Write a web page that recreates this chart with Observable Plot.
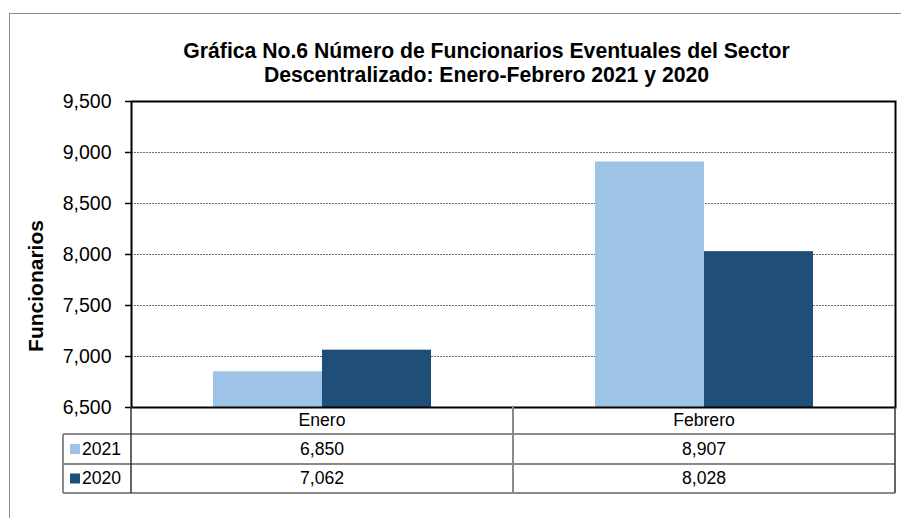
<!DOCTYPE html>
<html>
<head>
<meta charset="utf-8">
<script src="https://cdn.jsdelivr.net/npm/d3@7"></script>
<script src="https://cdn.jsdelivr.net/npm/@observablehq/plot@0.6"></script>
<style>
  html, body { margin: 0; padding: 0; background: #fff; overflow: hidden; }
  body { width: 901px; height: 518px; position: relative; font-family: "Liberation Sans", Arial, sans-serif; color: #000; }
  #outer { position: absolute; left: 9px; top: 13px; width: 1000px; height: 600px; border: 1px solid #8c8c8c; box-sizing: border-box; }
  .title { position: absolute; left: 486.5px; transform: translateX(-50%); white-space: nowrap; font-weight: bold; font-size: 21.2px; line-height: 1; }
  #ylabel { position: absolute; left: 35px; top: 286px; transform: translate(-50%, -50%) rotate(-90deg); white-space: nowrap; font-weight: bold; font-size: 21px; line-height: 1; }
  #chart { position: absolute; left: 0; top: 0; }
  #table { position: absolute; left: 0; top: 0; }
</style>
</head>
<body>
<div id="outer"></div>
<div class="title" id="t1" style="top:40px"></div>
<div class="title" id="t2" style="top:64px"></div>
<div id="ylabel"></div>
<div id="chart"></div>
<svg id="table" width="901" height="518"></svg>
<script>
// ---- data ----
const titleLines = ["Gráfica No.6 Número de Funcionarios Eventuales del Sector", "Descentralizado: Enero-Febrero 2021 y 2020"];
const yTitle = "Funcionarios";
const months = ["Enero", "Febrero"];
const years = ["2021", "2020"];
const values2021 = [6850, 8907];
const values2020 = [7062, 8028];
const yTicks = [6500, 7000, 7500, 8000, 8500, 9000, 9500];
const gridTicks = [7000, 7500, 8000, 8500, 9000];
const colors = ["#9DC3E6", "#1F4E79"];

const series = [values2021, values2020];
const data = [];
months.forEach((m, i) => years.forEach((y, j) => data.push({month: m, year: y, value: series[j][i]})));

document.getElementById("t1").textContent = titleLines[0];
document.getElementById("t2").textContent = titleLines[1];
document.getElementById("ylabel").textContent = yTitle;

const fmt = d3.format(",");
const yDomain = [yTicks[0], yTicks[yTicks.length - 1]];

const chart = Plot.plot({
  width: 901,
  height: 420,
  marginLeft: 130,
  marginRight: 6,
  marginTop: 101,
  marginBottom: 13,
  style: {fontFamily: "'Liberation Sans', Arial, sans-serif", fontSize: "19.5px", color: "#000", background: "transparent", overflow: "visible"},
  fx: {domain: months, padding: 0, axis: null, label: null},
  x: {domain: years, paddingInner: 0, paddingOuter: 0.747, axis: null, label: null},
  y: {domain: yDomain, axis: null, label: null},
  color: {domain: years, range: colors},
  marks: [
    Plot.gridY(gridTicks, {stroke: "#6e6e6e", strokeOpacity: 1, strokeDasharray: "2,1", strokeWidth: 1}),
    Plot.barY(data, {fx: "month", x: "year", y1: yDomain[0], y2: "value", fill: "year"}),
    Plot.axisY(yTicks, {anchor: "left", tickSize: 6, tickPadding: 14, tickFormat: fmt, label: null, stroke: "#000", strokeWidth: 1.5}),
    Plot.frame({facet: "super", stroke: "#000", strokeWidth: 2})
  ]
});
document.getElementById("chart").appendChild(chart);

// ---- data table below the chart, aligned with the fx scale ----
const fx = chart.scale("fx");
const bw = fx.bandwidth;
const colLeft = months.map(m => fx.apply(m));
const plotLeft = colLeft[0];
const plotRight = colLeft[colLeft.length - 1] + bw;
const tableLeft = 63;
const rowsY = [407, 434, 464, 493];
const svg = d3.select("#table");
const lineColor = "#8a8a8a";

// horizontal lines
rowsY.slice(1).forEach(y => svg.append("line").attr("x1", tableLeft).attr("x2", plotRight).attr("y1", y).attr("y2", y)
  .attr("stroke", lineColor).attr("stroke-width", 2));
// vertical lines
svg.append("line").attr("x1", tableLeft).attr("x2", tableLeft).attr("y1", rowsY[1]).attr("y2", rowsY[3]).attr("stroke", lineColor).attr("stroke-width", 2);
svg.append("line").attr("x1", plotLeft).attr("x2", plotLeft).attr("y1", rowsY[0]).attr("y2", rowsY[3]).attr("stroke", "#333").attr("stroke-width", 1.5);
colLeft.slice(1).forEach(x => svg.append("line").attr("x1", x).attr("x2", x).attr("y1", rowsY[0]).attr("y2", rowsY[3]).attr("stroke", lineColor).attr("stroke-width", 2));
svg.append("line").attr("x1", plotRight).attr("x2", plotRight).attr("y1", rowsY[0]).attr("y2", rowsY[3]).attr("stroke", "#333").attr("stroke-width", 1.5);

const tstyle = s => s.attr("font-family", "'Liberation Sans', Arial, sans-serif").attr("font-size", "17.6px").attr("fill", "#000");
// header
months.forEach((m, i) => tstyle(svg.append("text")).attr("x", colLeft[i] + bw / 2).attr("y", (rowsY[0] + rowsY[1]) / 2 + 1).attr("text-anchor", "middle").attr("dominant-baseline", "middle").text(m));
// rows
years.forEach((yr, j) => {
  const cy = (rowsY[j + 1] + rowsY[j + 2]) / 2;
  svg.append("rect").attr("x", 70).attr("y", cy - 5).attr("width", 10).attr("height", 10).attr("fill", colors[j]);
  tstyle(svg.append("text")).attr("x", 82).attr("y", cy + 1).attr("dominant-baseline", "middle").text(yr);
  months.forEach((m, i) => tstyle(svg.append("text")).attr("x", colLeft[i] + bw / 2).attr("y", cy + 1).attr("text-anchor", "middle").attr("dominant-baseline", "middle").text(fmt(series[j][i])));
});
</script>
</body>
</html>
